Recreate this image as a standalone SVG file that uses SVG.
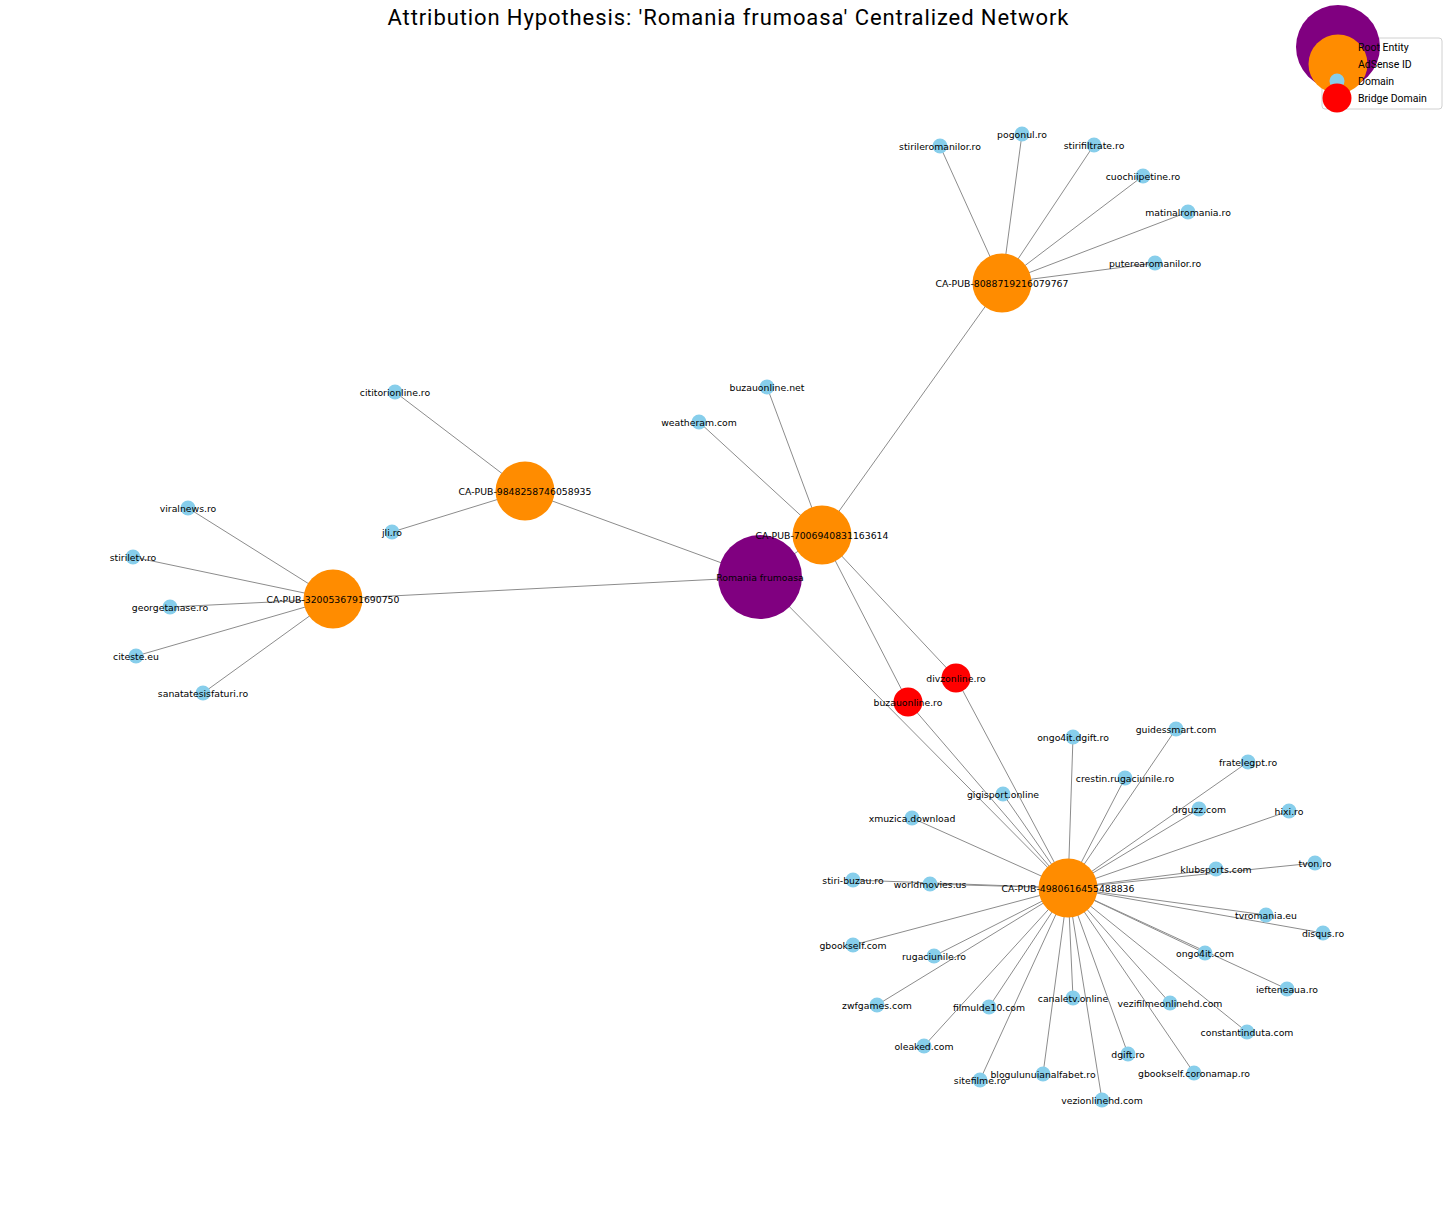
<svg xmlns="http://www.w3.org/2000/svg" width="1456" height="1210" viewBox="0 0 1456 1210">
<style>
.e{stroke:#8c8c8c;stroke-width:1;fill:none}
.lb{font-family:"DejaVu Sans",sans-serif;font-size:9.3px;fill:#000;text-anchor:middle;dominant-baseline:central}
.root{fill:#800080}
.ads{fill:#FF8C00}
.dom{fill:#87CEEB}
.br{fill:#FF0000}
.lg{font-family:Roboto,"Liberation Sans",sans-serif;font-size:10.5px;fill:#000;dominant-baseline:central}
</style>
<rect width="1456" height="1210" fill="#fff"/>
<text x="728" y="25" font-family="Roboto,'Liberation Sans',sans-serif" font-size="22" text-anchor="middle" textLength="681" fill="#000">Attribution Hypothesis: 'Romania frumoasa' Centralized Network</text>
<g id="connectors">
<line class="e" x1="760" y1="577" x2="525" y2="491"/>
<line class="e" x1="760" y1="577" x2="333" y2="599"/>
<line class="e" x1="760" y1="577" x2="822" y2="535"/>
<line class="e" x1="760" y1="577" x2="1068" y2="888"/>
<line class="e" x1="822" y1="535" x2="1002" y2="283"/>
<line class="e" x1="822" y1="535" x2="767" y2="387"/>
<line class="e" x1="822" y1="535" x2="699" y2="422"/>
<line class="e" x1="822" y1="535" x2="908" y2="702"/>
<line class="e" x1="822" y1="535" x2="956" y2="678"/>
<line class="e" x1="908" y1="702" x2="1068" y2="888"/>
<line class="e" x1="956" y1="678" x2="1068" y2="888"/>
<line class="e" x1="1002" y1="283" x2="940" y2="146"/>
<line class="e" x1="1002" y1="283" x2="1022" y2="134"/>
<line class="e" x1="1002" y1="283" x2="1094" y2="145"/>
<line class="e" x1="1002" y1="283" x2="1143" y2="176"/>
<line class="e" x1="1002" y1="283" x2="1188" y2="212"/>
<line class="e" x1="1002" y1="283" x2="1155" y2="263"/>
<line class="e" x1="525" y1="491" x2="395" y2="392"/>
<line class="e" x1="525" y1="491" x2="392" y2="532"/>
<line class="e" x1="333" y1="599" x2="188" y2="508"/>
<line class="e" x1="333" y1="599" x2="133" y2="557"/>
<line class="e" x1="333" y1="599" x2="170" y2="607"/>
<line class="e" x1="333" y1="599" x2="136" y2="656"/>
<line class="e" x1="333" y1="599" x2="203" y2="693"/>
<line class="e" x1="1068" y1="888" x2="1073" y2="737"/>
<line class="e" x1="1068" y1="888" x2="1125" y2="778"/>
<line class="e" x1="1068" y1="888" x2="1003" y2="794"/>
<line class="e" x1="1068" y1="888" x2="912" y2="818"/>
<line class="e" x1="1068" y1="888" x2="853" y2="880"/>
<line class="e" x1="1068" y1="888" x2="930" y2="884"/>
<line class="e" x1="1068" y1="888" x2="1176" y2="729"/>
<line class="e" x1="1068" y1="888" x2="1248" y2="762"/>
<line class="e" x1="1068" y1="888" x2="1199" y2="809"/>
<line class="e" x1="1068" y1="888" x2="1289" y2="811"/>
<line class="e" x1="1068" y1="888" x2="1216" y2="869"/>
<line class="e" x1="1068" y1="888" x2="1315" y2="863"/>
<line class="e" x1="1068" y1="888" x2="1266" y2="915"/>
<line class="e" x1="1068" y1="888" x2="1323" y2="933"/>
<line class="e" x1="1068" y1="888" x2="1205" y2="953"/>
<line class="e" x1="1068" y1="888" x2="1287" y2="989"/>
<line class="e" x1="1068" y1="888" x2="853" y2="945"/>
<line class="e" x1="1068" y1="888" x2="934" y2="956"/>
<line class="e" x1="1068" y1="888" x2="877" y2="1005"/>
<line class="e" x1="1068" y1="888" x2="989" y2="1007"/>
<line class="e" x1="1068" y1="888" x2="1073" y2="998"/>
<line class="e" x1="1068" y1="888" x2="1170" y2="1003"/>
<line class="e" x1="1068" y1="888" x2="924" y2="1046"/>
<line class="e" x1="1068" y1="888" x2="1128" y2="1054"/>
<line class="e" x1="1068" y1="888" x2="980" y2="1080"/>
<line class="e" x1="1068" y1="888" x2="1043" y2="1074"/>
<line class="e" x1="1068" y1="888" x2="1102" y2="1100"/>
<line class="e" x1="1068" y1="888" x2="1247" y2="1032"/>
<line class="e" x1="1068" y1="888" x2="1194" y2="1073"/>
</g>
<g id="n-root"><circle class="root" cx="760" cy="577" r="42"/><text class="lb" x="760" y="577">Romania frumoasa</text></g>
<g id="n-p7006"><circle class="ads" cx="822" cy="535" r="29.5"/><text class="lb" x="822" y="535">CA-PUB-7006940831163614</text></g>
<g id="n-p8088"><circle class="ads" cx="1002" cy="283" r="29.5"/><text class="lb" x="1002" y="283">CA-PUB-8088719216079767</text></g>
<g id="n-p9848"><circle class="ads" cx="525" cy="491" r="29.5"/><text class="lb" x="525" y="491">CA-PUB-9848258746058935</text></g>
<g id="n-p3200"><circle class="ads" cx="333" cy="599" r="29.5"/><text class="lb" x="333" y="599">CA-PUB-3200536791690750</text></g>
<g id="n-p4980"><circle class="ads" cx="1068" cy="888" r="29.5"/><text class="lb" x="1068" y="888">CA-PUB-4980616455488836</text></g>
<g id="n-divzonline"><circle class="br" cx="956" cy="678" r="14.5"/><text class="lb" x="956" y="678">divzonline.ro</text></g>
<g id="n-buzauonline-ro"><circle class="br" cx="908" cy="702" r="14.5"/><text class="lb" x="908" y="702">buzauonline.ro</text></g>
<g id="n-buzauonline-net"><circle class="dom" cx="767" cy="387" r="7.5"/><text class="lb" x="767" y="387">buzauonline.net</text></g>
<g id="n-weatheram"><circle class="dom" cx="699" cy="422" r="7.5"/><text class="lb" x="699" y="422">weatheram.com</text></g>
<g id="n-stirileromanilor"><circle class="dom" cx="940" cy="146" r="7.5"/><text class="lb" x="940" y="146">stirileromanilor.ro</text></g>
<g id="n-pogonul"><circle class="dom" cx="1022" cy="134" r="7.5"/><text class="lb" x="1022" y="134">pogonul.ro</text></g>
<g id="n-stirifiltrate"><circle class="dom" cx="1094" cy="145" r="7.5"/><text class="lb" x="1094" y="145">stirifiltrate.ro</text></g>
<g id="n-cuochiipetine"><circle class="dom" cx="1143" cy="176" r="7.5"/><text class="lb" x="1143" y="176">cuochiipetine.ro</text></g>
<g id="n-matinalromania"><circle class="dom" cx="1188" cy="212" r="7.5"/><text class="lb" x="1188" y="212">matinalromania.ro</text></g>
<g id="n-puterearomanilor"><circle class="dom" cx="1155" cy="263" r="7.5"/><text class="lb" x="1155" y="263">puterearomanilor.ro</text></g>
<g id="n-cititorionline"><circle class="dom" cx="395" cy="392" r="7.5"/><text class="lb" x="395" y="392">cititorionline.ro</text></g>
<g id="n-jli"><circle class="dom" cx="392" cy="532" r="7.5"/><text class="lb" x="392" y="532">jli.ro</text></g>
<g id="n-viralnews"><circle class="dom" cx="188" cy="508" r="7.5"/><text class="lb" x="188" y="508">viralnews.ro</text></g>
<g id="n-stiriletv"><circle class="dom" cx="133" cy="557" r="7.5"/><text class="lb" x="133" y="557">stiriletv.ro</text></g>
<g id="n-georgetanase"><circle class="dom" cx="170" cy="607" r="7.5"/><text class="lb" x="170" y="607">georgetanase.ro</text></g>
<g id="n-citeste"><circle class="dom" cx="136" cy="656" r="7.5"/><text class="lb" x="136" y="656">citeste.eu</text></g>
<g id="n-sanatatesisfaturi"><circle class="dom" cx="203" cy="693" r="7.5"/><text class="lb" x="203" y="693">sanatatesisfaturi.ro</text></g>
<g id="n-ongo4it-dgift"><circle class="dom" cx="1073" cy="737" r="7.5"/><text class="lb" x="1073" y="737">ongo4it.dgift.ro</text></g>
<g id="n-crestin"><circle class="dom" cx="1125" cy="778" r="7.5"/><text class="lb" x="1125" y="778">crestin.rugaciunile.ro</text></g>
<g id="n-gigisport"><circle class="dom" cx="1003" cy="794" r="7.5"/><text class="lb" x="1003" y="794">gigisport.online</text></g>
<g id="n-xmuzica"><circle class="dom" cx="912" cy="818" r="7.5"/><text class="lb" x="912" y="818">xmuzica.download</text></g>
<g id="n-stiri-buzau"><circle class="dom" cx="853" cy="880" r="7.5"/><text class="lb" x="853" y="880">stiri-buzau.ro</text></g>
<g id="n-worldmovies"><circle class="dom" cx="930" cy="884" r="7.5"/><text class="lb" x="930" y="884">worldmovies.us</text></g>
<g id="n-guidessmart"><circle class="dom" cx="1176" cy="729" r="7.5"/><text class="lb" x="1176" y="729">guidessmart.com</text></g>
<g id="n-fratelegpt"><circle class="dom" cx="1248" cy="762" r="7.5"/><text class="lb" x="1248" y="762">fratelegpt.ro</text></g>
<g id="n-drguzz"><circle class="dom" cx="1199" cy="809" r="7.5"/><text class="lb" x="1199" y="809">drguzz.com</text></g>
<g id="n-hixi"><circle class="dom" cx="1289" cy="811" r="7.5"/><text class="lb" x="1289" y="811">hixi.ro</text></g>
<g id="n-klubsports"><circle class="dom" cx="1216" cy="869" r="7.5"/><text class="lb" x="1216" y="869">klubsports.com</text></g>
<g id="n-tvon"><circle class="dom" cx="1315" cy="863" r="7.5"/><text class="lb" x="1315" y="863">tvon.ro</text></g>
<g id="n-tvromania"><circle class="dom" cx="1266" cy="915" r="7.5"/><text class="lb" x="1266" y="915">tvromania.eu</text></g>
<g id="n-disqus"><circle class="dom" cx="1323" cy="933" r="7.5"/><text class="lb" x="1323" y="933">disqus.ro</text></g>
<g id="n-ongo4it"><circle class="dom" cx="1205" cy="953" r="7.5"/><text class="lb" x="1205" y="953">ongo4it.com</text></g>
<g id="n-iefteneaua"><circle class="dom" cx="1287" cy="989" r="7.5"/><text class="lb" x="1287" y="989">iefteneaua.ro</text></g>
<g id="n-gbookself"><circle class="dom" cx="853" cy="945" r="7.5"/><text class="lb" x="853" y="945">gbookself.com</text></g>
<g id="n-rugaciunile"><circle class="dom" cx="934" cy="956" r="7.5"/><text class="lb" x="934" y="956">rugaciunile.ro</text></g>
<g id="n-zwfgames"><circle class="dom" cx="877" cy="1005" r="7.5"/><text class="lb" x="877" y="1005">zwfgames.com</text></g>
<g id="n-filmulde10"><circle class="dom" cx="989" cy="1007" r="7.5"/><text class="lb" x="989" y="1007">filmulde10.com</text></g>
<g id="n-canaletv"><circle class="dom" cx="1073" cy="998" r="7.5"/><text class="lb" x="1073" y="998">canaletv.online</text></g>
<g id="n-vezifilmeonlinehd"><circle class="dom" cx="1170" cy="1003" r="7.5"/><text class="lb" x="1170" y="1003">vezifilmeonlinehd.com</text></g>
<g id="n-constantinduta"><circle class="dom" cx="1247" cy="1032" r="7.5"/><text class="lb" x="1247" y="1032">constantinduta.com</text></g>
<g id="n-oleaked"><circle class="dom" cx="924" cy="1046" r="7.5"/><text class="lb" x="924" y="1046">oleaked.com</text></g>
<g id="n-dgift"><circle class="dom" cx="1128" cy="1054" r="7.5"/><text class="lb" x="1128" y="1054">dgift.ro</text></g>
<g id="n-gbookself-coronamap"><circle class="dom" cx="1194" cy="1073" r="7.5"/><text class="lb" x="1194" y="1073">gbookself.coronamap.ro</text></g>
<g id="n-sitefilme"><circle class="dom" cx="980" cy="1080" r="7.5"/><text class="lb" x="980" y="1080">sitefilme.ro</text></g>
<g id="n-blogulunuianalfabet"><circle class="dom" cx="1043" cy="1074" r="7.5"/><text class="lb" x="1043" y="1074">blogulunuianalfabet.ro</text></g>
<g id="n-vezionlinehd"><circle class="dom" cx="1102" cy="1100" r="7.5"/><text class="lb" x="1102" y="1100">vezionlinehd.com</text></g>
<g id="legend">
<rect x="1322" y="38" width="120" height="71" rx="3" fill="#fff" fill-opacity="0.85" stroke="#d0d0d0" stroke-width="1"/>
<circle class="root" cx="1338" cy="47" r="42"/>
<circle class="ads" cx="1338" cy="64" r="29.5"/>
<circle class="dom" cx="1337" cy="81" r="7.5"/>
<circle class="br" cx="1337" cy="98" r="14.5"/>
<text class="lg" x="1358" y="47">Root Entity</text>
<text class="lg" x="1358" y="64">AdSense ID</text>
<text class="lg" x="1358" y="81">Domain</text>
<text class="lg" x="1358" y="98">Bridge Domain</text>
</g>
</svg>
